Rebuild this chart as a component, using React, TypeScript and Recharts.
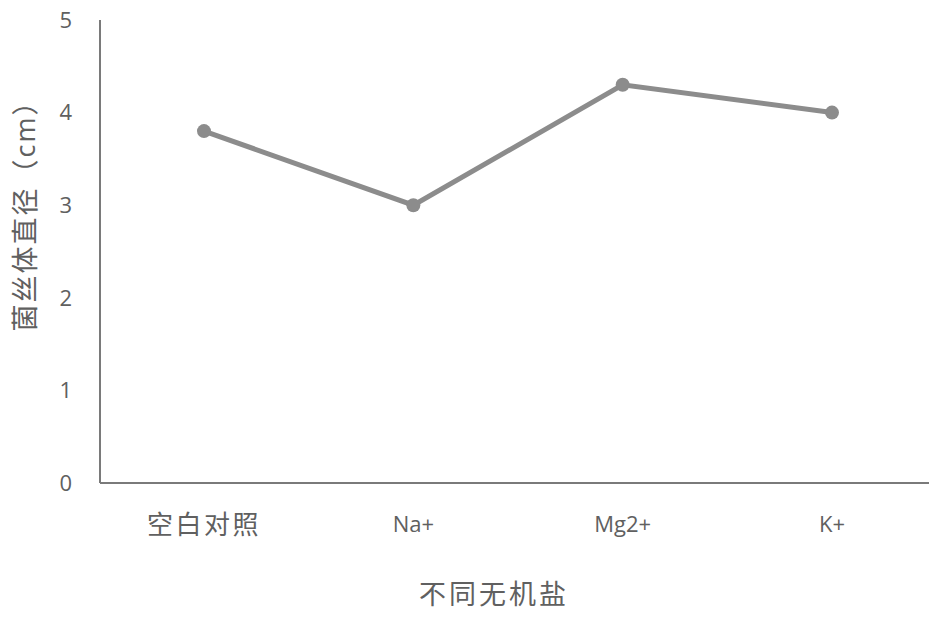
import { LineChart, Line, XAxis, YAxis, Label } from 'recharts';

// 不同无机盐对菌丝体直径的影响
const salts = ['空白对照', 'Na+', 'Mg2+', 'K+'];
const diameters = [3.8, 3.0, 4.3, 4.0];
const yTicks = [0, 1, 2, 3, 4, 5];

const data = salts.map((name, i) => ({ name, value: diameters[i] }));

const axisGray = '#7a7a7a';
const textGray = '#606060';
const lineGray = '#8c8c8c';
const fontStack = '"Open Sans", "Noto Sans CJK SC", sans-serif';

const hasCjk = (s: string) => /[\u4e00-\u9fff]/.test(s);

const XTick = (props: any) => {
    const { x, y, payload } = props;
    const cjk = hasCjk(payload.value);
    return (
        <text x={x} y={y} dy={cjk ? 51 : 49} textAnchor='middle' letterSpacing={cjk ? 2.5 : 0}
            fill={textGray} fontSize={cjk ? 26 : 22} fontFamily={fontStack}>
            {payload.value}
        </text>
    );
};

const xTitle = (props: any) => {
    const vb = props.viewBox || { x: 100, y: 483, width: 836, height: 135 };
    return (
        <text x={vb.x + vb.width / 2 - 24} y={vb.y + 121} textAnchor='middle' letterSpacing={3}
            fill={textGray} fontSize={27} fontFamily={fontStack}>
            不同无机盐
        </text>
    );
};

const yTitle = (props: any) => {
    const vb = props.viewBox || { x: 8, y: 20, width: 92, height: 463 };
    const cx = vb.x + 17;
    const cy = vb.y + 189;
    return (
        <text x={cx} y={cy} dy={10} textAnchor='middle' letterSpacing={2}
            transform={`rotate(-90, ${cx}, ${cy})`}
            fill={textGray} fontSize={27} fontFamily={fontStack}>
            菌丝体直径（cm）
        </text>
    );
};

export default function App() {
    return (
        <div style={{ position: 'absolute', left: 0, top: 0, width: 929, height: 618, overflow: 'hidden' }}>
            <LineChart width={938} height={618} data={data}
                margin={{ top: 20, right: 2, left: 8, bottom: 0 }}>
                <XAxis dataKey='name' height={135} tickLine={false} tickSize={0} tickMargin={0}
                    padding={{ left: 104, right: 104 }}
                    axisLine={{ stroke: axisGray, strokeWidth: 2 }} tick={<XTick />} interval={0}>
                    <Label content={xTitle} />
                </XAxis>
                <YAxis width={92} domain={[0, 5]} ticks={yTicks} tickLine={false} tickSize={0} tickMargin={28}
                    axisLine={{ stroke: axisGray, strokeWidth: 2 }}
                    tick={{ fill: textGray, fontSize: 22, fontFamily: fontStack }}>
                    <Label content={yTitle} />
                </YAxis>
                <Line dataKey='value' stroke={lineGray} strokeWidth={5}
                    dot={{ r: 7, fill: lineGray, stroke: lineGray, strokeWidth: 0 }}
                    isAnimationActive={false} />
            </LineChart>
        </div>
    );
}
